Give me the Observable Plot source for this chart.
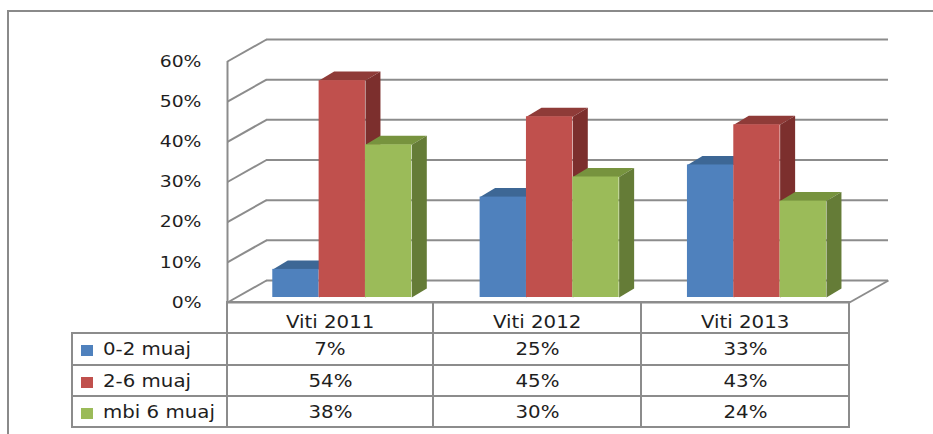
<!DOCTYPE html>
<html><head><meta charset="utf-8">
<script src="https://cdn.jsdelivr.net/npm/d3@7"></script>
<script src="https://cdn.jsdelivr.net/npm/@observablehq/plot@0.6"></script>
<style>
body{margin:0;background:#fff;}
#wrap{position:relative;width:933px;height:434px;overflow:hidden;font-family:"DejaVu Sans",sans-serif;color:#1e1e1e;}
#frame{position:absolute;left:7px;top:10px;width:1000px;height:1000px;border-top:2px solid #8a8a8a;border-left:2px solid #8a8a8a;}
#chart{position:absolute;left:0;top:0;}
#tbl{position:absolute;left:71px;top:301px;border-collapse:collapse;table-layout:fixed;}
#tbl td{border:2px solid #8c8c8c;padding:0;font-size:17.5px;text-align:center;white-space:nowrap;overflow:visible;}
#tbl td.empty{border-top:none;border-left:none;}
#tbl td.head{vertical-align:bottom;}
#tbl td.leg{text-align:left;}
.st{display:inline-block;transform:scaleX(1.13);}
.leg .st{transform-origin:left center;}
.sw{display:inline-block;width:12px;height:11px;margin-left:8px;margin-right:10px;vertical-align:-1px;}
</style></head>
<body><div id="wrap"><div id="frame"></div><div id="chart"></div><table id="tbl"></table></div>
<script>
const categories = ["Viti 2011", "Viti 2012", "Viti 2013"];
const seriesNames = ["0-2 muaj", "2-6 muaj", "mbi 6 muaj"];
const values0to2 = [7, 25, 33];
const values2to6 = [54, 45, 43];
const valuesOver6 = [38, 30, 24];
const yTicks = [0, 10, 20, 30, 40, 50, 60];
const frontColors = ["#4F81BD", "#C0504D", "#9BBB59"];
const sideColors = ["#385D8A", "#7C2F2D", "#657C37"];
const topColors = ["#3D6795", "#8F3B38", "#77933E"];

const seriesValues = [values0to2, values2to6, valuesOver6];

// layout
const W = 933, H = 310, mL = 227, mR = 84, mT = 61, mB = 8;
const kx = (W - mL - mR) / categories.length;
const ky = (H - mT - mB) / 60;
const u = px => px / kx;   // px -> category units
const p = px => px / ky;   // px -> percent units
const WDX = 39, WDY = 22;  // wall depth
const BOX = 9, BOY = 5;    // bar plane offset
const BDX = 15, BDY = 9;   // bar depth
const BW = 0.2235, START = 0.175;

const marks = [];
marks.push(Plot.link(yTicks, {x1: 0, y1: d => d, x2: u(WDX), y2: d => d + p(WDY), stroke: "#8c8c8c", strokeWidth: 2}));
marks.push(Plot.ruleY(yTicks, {y: d => d + p(WDY), x1: u(WDX), x2: categories.length + u(WDX), stroke: "#8c8c8c", strokeWidth: 2}));
marks.push(Plot.link([0], {x1: categories.length, y1: 0, x2: categories.length + u(WDX), y2: p(WDY), stroke: "#8c8c8c", strokeWidth: 2}));
marks.push(Plot.ruleX([0], {y1: 0, y2: 60, stroke: "#8c8c8c", strokeWidth: 2}));
marks.push(Plot.ruleY([0], {x1: 0, x2: categories.length, stroke: "#8c8c8c", strokeWidth: 2}));

seriesValues.forEach((vals, j) => {
  const bars = vals.map((v, i) => {
    const x1 = i + START + j * BW + u(BOX);
    return {id: `${j}-${i}`, x1, x2: x1 + BW, y0: p(BOY), yt: v + p(BOY), v, cat: categories[i], series: seriesNames[j]};
  });
  const tops = bars.flatMap(b => [
    {id: b.id, x: b.x1, y: b.yt},
    {id: b.id, x: b.x2, y: b.yt},
    {id: b.id, x: b.x2 + u(BDX), y: b.yt + p(BDY)},
    {id: b.id, x: b.x1 + u(BDX), y: b.yt + p(BDY)},
    {id: b.id, x: b.x1, y: b.yt}
  ]);
  const sides = bars.flatMap(b => [
    {id: b.id, x: b.x2, y: b.y0},
    {id: b.id, x: b.x2, y: b.yt},
    {id: b.id, x: b.x2 + u(BDX), y: b.yt + p(BDY)},
    {id: b.id, x: b.x2 + u(BDX), y: b.y0 + p(BDY)},
    {id: b.id, x: b.x2, y: b.y0}
  ]);
  marks.push(Plot.line(tops, {x: "x", y: "y", z: "id", fill: topColors[j], stroke: "none"}));
  marks.push(Plot.line(sides, {x: "x", y: "y", z: "id", fill: sideColors[j], stroke: "none"}));
  marks.push(Plot.rect(bars, {x1: "x1", x2: "x2", y1: "y0", y2: "yt", fill: frontColors[j]}));
});

const svg = Plot.plot({
  width: W, height: H,
  marginLeft: mL, marginRight: mR, marginTop: mT, marginBottom: mB,
  x: {domain: [0, categories.length], axis: null},
  y: {domain: [0, 60], ticks: yTicks, tickFormat: d => d + "%", tickSize: 0, tickPadding: 26, label: null},
  style: {background: "transparent", fontFamily: "DejaVu Sans", fontSize: "16.5px", color: "#1e1e1e", overflow: "visible"},
  marks
});
document.getElementById("chart").appendChild(svg);
svg.querySelectorAll("text").forEach(t => {
  const L = t.getComputedTextLength();
  if (L > 0) { t.setAttribute("textLength", L * 1.14); t.setAttribute("lengthAdjust", "spacingAndGlyphs"); }
});

// data table
const tbl = d3.select("#tbl");
const cg = tbl.append("colgroup");
[155, 206, 208, 208].forEach(w => cg.append("col").style("width", w + "px"));
const hr = tbl.append("tr").style("height", "31px");
hr.append("td").attr("class", "empty");
categories.forEach(c => hr.append("td").attr("class", "head").append("span").attr("class", "st").text(c));
seriesNames.forEach((s, j) => {
  const tr = tbl.append("tr").style("height", j === 0 ? "32px" : "31px");
  const lc = tr.append("td").attr("class", "leg");
  lc.append("span").attr("class", "sw").style("background", frontColors[j]);
  lc.append("span").attr("class", "st").text(s);
  seriesValues[j].forEach(v => tr.append("td").append("span").attr("class", "st").text(v + "%"));
});
</script>
</body></html>
